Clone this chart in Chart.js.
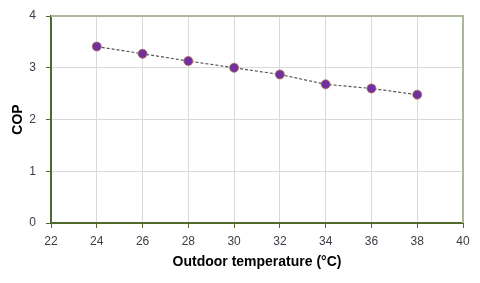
<!DOCTYPE html>
<html>
<head>
<meta charset="utf-8">
<script src="https://cdn.jsdelivr.net/npm/chart.js@4/dist/chart.umd.min.js"></script>
<style>
  html, body { margin: 0; padding: 0; background: #fff; }
  #wrap { width: 480px; height: 283px; }
</style>
</head>
<body>
<div id="wrap"><canvas id="copChart" width="480" height="283"></canvas></div>
<script>
// COP vs outdoor temperature
const temps = [24, 26, 28, 30, 32, 34, 36, 38];
const cop = [3.41, 3.27, 3.13, 3.00, 2.87, 2.68, 2.60, 2.48];

const AXIS = '#4f6a2a';
const FRAME = '#a9b899';
const GRID = '#d9d9d9';
const TICK_TEXT = '#3c3c46';

// top + right frame lines
const framePlugin = {
  id: 'frame',
  afterDraw(chart) {
    const { ctx, chartArea: a } = chart;
    ctx.save();
    ctx.strokeStyle = FRAME;
    ctx.lineWidth = 2;
    ctx.beginPath();
    ctx.moveTo(a.left, a.top);
    ctx.lineTo(a.right, a.top);
    ctx.lineTo(a.right, a.bottom);
    ctx.stroke();
    ctx.restore();
  }
};

new Chart(document.getElementById('copChart'), {
  type: 'line',
  data: {
    datasets: [{
      data: temps.map((t, i) => ({ x: t, y: cop[i] })),
      borderColor: '#555555',
      borderWidth: 1.2,
      borderDash: [3, 2],
      pointBackgroundColor: '#7030a0',
      pointBorderColor: '#b0704a',
      pointBorderWidth: 0.8,
      pointRadius: 4.5,
      tension: 0,
    }],
  },
  options: {
    responsive: false,
    animation: false,
    layout: { padding: { left: 0, top: 11, right: 17, bottom: 0 } },
    plugins: { legend: { display: false }, tooltip: { enabled: false } },
    scales: {
      x: {
        type: 'linear',
        min: 22, max: 40,
        afterFit: (s) => { s.height = 60; },
        ticks: { stepSize: 2, color: TICK_TEXT, padding: 6, font: { family: 'Liberation Sans', size: 12 } },
        grid: { color: GRID, tickColor: AXIS, tickLength: 5 },
        border: { color: AXIS, width: 2 },
        title: {
          display: true,
          text: 'Outdoor temperature (°C)',
          color: '#000',
          font: { family: 'Liberation Sans', size: 14, weight: 'bold' },
          padding: { top: 4, bottom: 12 },
        },
      },
      y: {
        min: 0, max: 4,
        afterFit: (s) => { s.width = 51; },
        ticks: { stepSize: 1, color: TICK_TEXT, padding: 10, font: { family: 'Liberation Sans', size: 12, lineHeight: 1 } },
        grid: { color: GRID, tickColor: AXIS, tickLength: 5 },
        border: { color: AXIS, width: 2 },
        title: {
          display: true,
          text: 'COP',
          color: '#000',
          font: { family: 'Liberation Sans', size: 14, weight: 'bold' },
          padding: { top: 10, bottom: 4 },
        },
      },
    },
  },
  plugins: [framePlugin],
});
</script>
</body>
</html>
